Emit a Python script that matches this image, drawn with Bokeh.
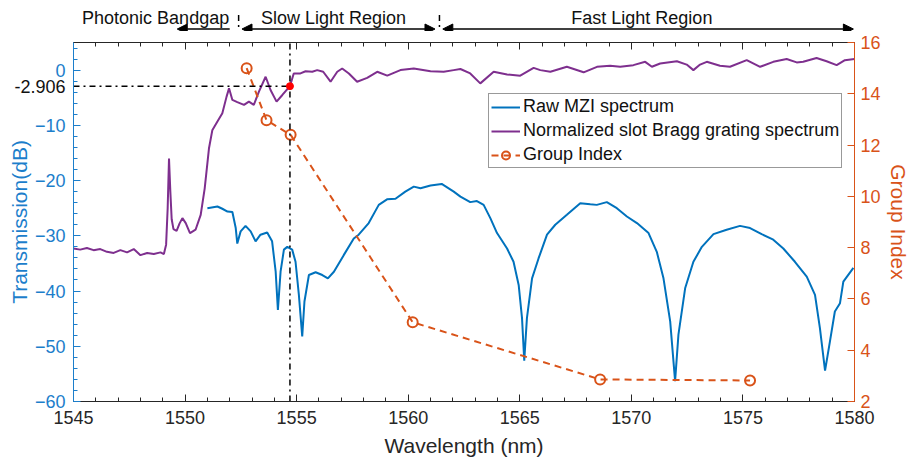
from bokeh.plotting import figure
from bokeh.layouts import column
from bokeh.models import (Range1d, LinearAxis, FixedTicker, Arrow, NormalHead,
                          Legend, LegendItem, CustomJSTickFormatter)
from bokeh.embed import file_html
from bokeh.resources import INLINE
from bokeh.core.properties import value

# ---------------- data ----------------
mzi_wl = [1551.0, 1551.45, 1551.67, 1551.9, 1552.12, 1552.27, 1552.34, 1552.49, 1552.71, 1552.94,
          1553.16, 1553.38, 1553.68, 1553.9, 1554.06, 1554.16, 1554.28, 1554.43, 1554.58, 1554.8,
          1554.95, 1555.1, 1555.25, 1555.35, 1555.55, 1555.85, 1556.15, 1556.4, 1556.67, 1557.11,
          1557.56, 1557.78, 1558.23, 1558.68, 1559.05, 1559.43, 1559.87, 1560.25, 1560.55, 1561.0,
          1561.5, 1562.04, 1562.34, 1562.78, 1563.08, 1563.38, 1563.68, 1563.98, 1564.43, 1564.72,
          1564.95, 1565.1, 1565.2, 1565.32, 1565.55, 1565.84, 1566.22, 1566.59, 1567.11, 1567.71,
          1568.16, 1568.45, 1568.9, 1569.35, 1569.8, 1570.25, 1570.77, 1571.14, 1571.44, 1571.74,
          1571.96, 1572.11, 1572.41, 1572.78, 1573.16, 1573.68, 1574.27, 1574.87, 1575.32, 1575.84,
          1576.36, 1576.81, 1577.33, 1577.86, 1578.23, 1578.45, 1578.68, 1578.9, 1579.12, 1579.35,
          1579.5, 1579.95]
mzi_db = [-25.0, -24.7, -25.1, -25.6, -25.7, -28.6, -31.4, -29.2, -28.2, -29.2,
          -31.0, -29.8, -29.4, -31.0, -36.5, -43.4, -36.5, -32.5, -32.0, -32.5,
          -34.7, -40.7, -48.2, -41.9, -37.1, -36.6, -37.1, -37.7, -36.5, -33.5,
          -30.5, -29.8, -27.7, -24.4, -23.4, -23.3, -22.0, -21.1, -21.4, -20.9,
          -20.6, -22.0, -22.9, -23.9, -23.7, -24.4, -26.8, -29.5, -32.3, -34.7,
          -38.9, -44.9, -52.6, -44.9, -37.7, -34.1, -29.8, -28.0, -26.2, -24.1,
          -24.3, -24.4, -23.9, -25.0, -26.5, -27.7, -29.5, -32.9, -37.7, -45.5,
          -56.3, -47.9, -39.5, -34.7, -32.0, -29.7, -28.9, -28.2, -28.6, -29.7,
          -30.7, -32.3, -34.7, -37.4, -40.7, -46.7, -54.4, -49.1, -43.7, -42.2,
          -38.3, -35.8]

bragg_wl = [1545.0, 1545.3, 1545.6, 1545.9, 1546.2, 1546.5, 1546.8, 1547.1, 1547.4, 1547.7,
            1548.0, 1548.3, 1548.6, 1548.9, 1549.05, 1549.15, 1549.22, 1549.28, 1549.34, 1549.4,
            1549.48, 1549.62, 1549.75, 1549.88, 1550.03, 1550.22, 1550.47, 1550.7, 1550.88, 1551.07,
            1551.22, 1551.45, 1551.67, 1551.86, 1551.97, 1552.12, 1552.34, 1552.64, 1552.86, 1553.08,
            1553.31, 1553.61, 1553.83, 1554.1, 1554.36, 1554.7, 1554.87, 1555.17, 1555.4, 1555.7,
            1555.92, 1556.19, 1556.52, 1556.82, 1557.04, 1557.34, 1557.71, 1558.16, 1558.61, 1559.06,
            1559.65, 1560.25, 1561.0, 1561.59, 1562.04, 1562.34, 1562.78, 1563.23, 1563.83, 1564.43,
            1565.02, 1565.62, 1565.92, 1566.37, 1567.11, 1567.86, 1568.46, 1569.05, 1569.5, 1570.09,
            1570.62, 1570.92, 1571.29, 1572.04, 1572.48, 1572.78, 1573.08, 1573.38, 1573.97, 1574.42,
            1575.17, 1575.77, 1576.36, 1576.96, 1577.41, 1577.7, 1578.3, 1578.75, 1579.2, 1579.57,
            1580.0]
bragg_db = [-32.3, -32.5, -32.2, -32.6, -32.4, -32.9, -33.1, -32.6, -33.0, -32.4,
            -33.5, -33.1, -33.3, -33.0, -33.3, -31.6, -25.0, -16.0, -22.0, -27.0,
            -28.8, -29.1, -27.8, -26.8, -27.7, -29.5, -28.9, -26.2, -21.4, -14.2,
            -10.9, -9.3, -7.8, -4.8, -3.3, -5.4, -5.8, -6.3, -5.7, -6.3,
            -3.9, -1.2, -3.6, -5.7, -4.5, -2.9, -0.6, -0.6, -0.2, -0.3,
            0.0, -0.3, -2.1, -0.3, 0.3, -0.6, -2.1, -1.4, -0.3, -1.0,
            0.0, 0.3, -0.2, -0.3, 0.0, 0.2, -0.6, -2.4, -0.3, -0.8,
            -1.0, 0.4, 0.0, -0.3, 0.6, -0.4, 0.6, 0.8, 0.6, 0.9,
            1.5, 0.6, 1.2, 1.6, 1.0, 0.0, 1.0, 1.5, 0.8, 0.6,
            1.8, 0.6, 1.5, 2.0, 1.4, 1.5, 2.2, 1.6, 0.9, 1.8,
            2.0]

gi_wl = [1552.76, 1553.65, 1554.73, 1560.2, 1568.6, 1575.32]
gi_val = [15.0, 12.97, 12.4, 5.09, 2.86, 2.82]

x_ticks = [1545, 1550, 1555, 1560, 1565, 1570, 1575, 1580]
y_ticks = [-60, -50, -40, -30, -20, -10, 0]
gi_ticks = [2, 4, 6, 8, 10, 12, 14, 16]

marker_wl = 1554.7
marker_db = -2.906
region_bounds = [1552.4, 1561.4]
region_names = ["Photonic Bandgap", "Slow Light Region", "Fast Light Region"]
region_centers = [1548.68, 1556.65, 1570.47]
arrow_spans = [(1552.0, 1549.65), (1552.55, 1561.2), (1561.55, 1579.95)]

BLUE = "#0072BD"
AXBLUE = "#1C7ECB"
PURPLE = "#7E2F8E"
ORANGE = "#D95319"
FONT = "Liberation Sans"

xr = Range1d(1545, 1580)

# ---------------- annotation strip above the axes ----------------
top_h = 31
tf = figure(width=912, height=top_h, output_backend="svg", toolbar_location=None,
            x_range=xr, y_range=Range1d(0, 1), x_axis_location=None, y_axis_location=None,
            min_border_left=73, min_border_right=58, min_border_top=0, min_border_bottom=0)
tf.outline_line_color = None
tf.grid.visible = False
tf.text(x=region_centers, y=[0.43] * 3, text=region_names, text_font=value(FONT),
        text_font_size="18px", text_align="center", text_baseline="middle",
        text_color="#111111")
tf.segment(x0=region_bounds, y0=[0.53] * 2, x1=region_bounds, y1=[0.0] * 2,
           line_color="black", line_width=1.5, line_dash="dashdot")
for i, (xs, xe) in enumerate(arrow_spans):
    start = None if i == 0 else NormalHead(size=10, fill_color="black", line_color="black")
    tf.add_layout(Arrow(x_start=xs, y_start=0.08, x_end=xe, y_end=0.08, start=start,
                        end=NormalHead(size=10, fill_color="black", line_color="black"),
                        line_color="black", line_width=1.5))

# ---------------- main axes ----------------
p = figure(width=912, height=461 - top_h, output_backend="svg", toolbar_location=None,
           x_range=xr, y_range=Range1d(-60, 5),
           min_border_left=73, min_border_right=58, min_border_top=11, min_border_bottom=60)
p.extra_y_ranges = {"gi": Range1d(2, 16)}
p.grid.visible = False
p.outline_line_color = None


def style_axis(ax, color, text_color):
    ax.axis_line_color = color
    ax.major_tick_line_color = color
    ax.minor_tick_line_color = color
    ax.major_tick_in = 7
    ax.major_tick_out = 0
    ax.minor_tick_in = 4
    ax.minor_tick_out = 0
    ax.major_label_text_color = text_color
    ax.major_label_text_font = FONT
    ax.major_label_text_font_size = "18px"
    ax.axis_label_text_color = text_color
    ax.axis_label_text_font = FONT
    ax.axis_label_text_font_size = "21px"
    ax.axis_label_text_font_style = "normal"


xa = p.xaxis[0]
xa.ticker = FixedTicker(ticks=x_ticks, minor_ticks=list(range(1545, 1581)))
style_axis(xa, "#262626", "#262626")
xa.axis_label = "Wavelength (nm)"
xa.major_label_standoff = 9
xa.axis_label_standoff = 7

ya = p.yaxis[0]
ya.ticker = FixedTicker(ticks=y_ticks, minor_ticks=list(range(-60, 6, 2)))
style_axis(ya, AXBLUE, AXBLUE)
ya.axis_label = "Transmission(dB)"
ya.major_label_standoff = 8
ya.axis_label_standoff = 1

# black "-2.906" mark on the left side
ya2 = LinearAxis(ticker=FixedTicker(ticks=[marker_db]))
style_axis(ya2, None, "#111111")
ya2.axis_line_color = None
ya2.major_tick_in = 0
ya2.minor_tick_in = 0
ya2.major_label_overrides = {marker_db: "-2.906"}
ya2.major_label_standoff = -61
p.add_layout(ya2, "left")

top = LinearAxis(ticker=FixedTicker(ticks=x_ticks, minor_ticks=list(range(1545, 1581))),
                 formatter=CustomJSTickFormatter(code="return ''"))
style_axis(top, "#262626", "#262626")
top.major_label_text_font_size = "1px"
top.major_label_standoff = 0
p.add_layout(top, "above")

ra = LinearAxis(y_range_name="gi", ticker=FixedTicker(ticks=gi_ticks))
style_axis(ra, ORANGE, ORANGE)
ra.axis_label = "Group Index"
ra.major_label_standoff = 6
ra.axis_label_standoff = 3
p.add_layout(ra, "right")

# curves
r_mzi = p.line(mzi_wl, mzi_db, line_color=BLUE, line_width=2)
r_bragg = p.line(bragg_wl, bragg_db, line_color=PURPLE, line_width=2)
r_gi_line = p.line(gi_wl, gi_val, y_range_name="gi", line_color=ORANGE, line_width=2,
                   line_dash="7 5")
r_gi_pts = p.scatter(gi_wl, gi_val, y_range_name="gi", marker="circle", size=10,
                     fill_color=None, line_color=ORANGE, line_width=2)

# marker lines
p.line([marker_wl, marker_wl], [-60, 5], line_color="black", line_width=1.5,
       line_dash="dashdot")
p.line([1545, marker_wl], [marker_db, marker_db], line_color="black", line_width=1.5,
       line_dash="dashdot")
p.scatter([marker_wl], [marker_db], marker="circle", size=7, fill_color="red",
          line_color="red")

legend = Legend(items=[LegendItem(label="Raw MZI spectrum", renderers=[r_mzi]),
                       LegendItem(label="Normalized slot Bragg grating spectrum", renderers=[r_bragg]),
                       LegendItem(label="Group Index", renderers=[r_gi_line, r_gi_pts])],
                location=(415, 233))
legend.label_text_font = FONT
legend.label_text_font_size = "18px"
legend.label_text_color = "#111111"
legend.label_height = 20
legend.glyph_height = 20
legend.glyph_width = 29
legend.spacing = 3
legend.padding = 2
legend.margin = 0
legend.label_standoff = 3
legend.border_line_color = "#333333"
legend.border_line_width = 1
legend.background_fill_alpha = 1
p.add_layout(legend)

layout = column(tf, p, spacing=0)
open("out.html", "w").write(file_html(layout, INLINE))
